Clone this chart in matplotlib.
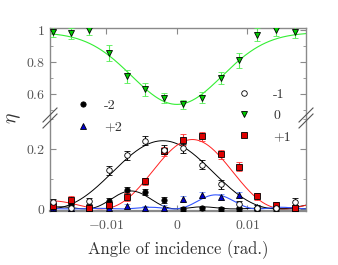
import matplotlib.pyplot as plt
import numpy as np
from matplotlib.lines import Line2D

plt.rcParams["mathtext.fontset"] = "cm"
plt.rcParams["font.family"] = ["cmr10", "DejaVu Serif"]
plt.rcParams["axes.unicode_minus"] = False

# measured angles of incidence (rad.)
angle = [-0.0176, -0.0150, -0.0124, -0.0097, -0.0071, -0.0045, -0.0018,
         0.0009, 0.0035, 0.0062, 0.0088, 0.0114, 0.0141, 0.0167]

# diffraction efficiencies per order
eta_0 = [0.99, 0.98, 1.00, 0.855, 0.71, 0.63, 0.575,
         0.535, 0.577, 0.70, 0.81, 0.97, 1.00, 0.985]
err_0 = [0.035, 0.035, 0.03, 0.05, 0.04, 0.04, 0.03,
         0.03, 0.035, 0.04, 0.045, 0.04, 0.035, 0.035]

eta_m1 = [0.022, 0.003, 0.025, 0.13, 0.18, 0.228, 0.198,
          0.203, 0.147, 0.082, 0.016, 0.004, 0.004, 0.023]
err_m1 = [0.012, 0.01, 0.01, 0.015, 0.015, 0.015, 0.015,
          0.015, 0.015, 0.015, 0.012, 0.01, 0.01, 0.012]

eta_p1 = [0.01, 0.03, 0.004, 0.013, 0.04, 0.093, 0.192,
          0.231, 0.243, 0.183, 0.141, 0.042, 0.012, 0.004]
err_p1 = [0.01, 0.012, 0.01, 0.01, 0.012, 0.012, 0.015,
          0.018, 0.015, 0.015, 0.015, 0.012, 0.01, 0.01]

eta_m2 = [0.006, 0.018, 0.004, 0.028, 0.062, 0.057, 0.03,
          0.0, 0.002, 0.0, 0.0, 0.002, 0.003, 0.002]
err_m2 = [0.008, 0.008, 0.008, 0.008, 0.01, 0.01, 0.01,
          0.006, 0.006, 0.006, 0.006, 0.006, 0.006, 0.006]

eta_p2 = [0.003, 0.002, 0.002, 0.003, 0.009, 0.003, 0.004,
          0.032, 0.045, 0.04, 0.045, 0.006, 0.01, 0.004]
err_p2 = [0.006, 0.006, 0.006, 0.006, 0.008, 0.008, 0.008,
          0.01, 0.01, 0.01, 0.01, 0.008, 0.008, 0.008]

# fit parameters (amplitude, centre, width)
fit_m1 = (0.228, -0.002, 0.0060)
fit_p1 = (0.232, 0.0022, 0.00478)
fit_m2 = (0.060, -0.0065, 0.0024)
fit_p2 = (0.047, 0.0055, 0.0022)
fit_0 = (0.985, 0.45, 0.0, 0.0064)  # top, depth, centre, sigma


def kogelnik(x, amp, x0, w):
    nu = np.pi / 2
    xi = (x - x0) / w
    return amp * np.sin(np.sqrt(nu ** 2 + xi ** 2)) ** 2 / (1 + xi ** 2 / nu ** 2)


def dip(x, top, depth, x0, s):
    return top - depth * np.exp(-((x - x0) ** 2) / (2 * s ** 2))


xlim = (-0.0180, 0.0183)
xs = np.linspace(xlim[0], xlim[1], 400)

fig = plt.figure(figsize=(3.38, 2.65), dpi=100)
left, width = 50 / 338, 256 / 338
y_break = 1 - 118 / 265
ax_top = fig.add_axes([left, y_break, width, (1 - 28 / 265) - y_break])
ax_bot = fig.add_axes([left, 1 - 211 / 265, width, y_break - (1 - 211 / 265)])

spine_col = "#8a8a8a"
label_col = "#555555"

eb_kw = dict(linestyle="none", capsize=2, elinewidth=0.8, capthick=0.8,
             markeredgecolor="black", markeredgewidth=0.6, zorder=3)

# zeroth order, top panel
ax_top.plot(xs, dip(xs, *fit_0), color="#33ee33", lw=0.8, zorder=2)
ax_top.errorbar(angle, eta_0, yerr=err_0, fmt="v", ms=4.5,
                color="#00cc00", ecolor="#55ee55", **eb_kw)

# other orders, bottom panel
ax_bot.plot(xs, kogelnik(xs, *fit_m1), color="black", lw=0.7, zorder=2)
ax_bot.plot(xs, kogelnik(xs, *fit_p1), color="#ff2020", lw=0.7, zorder=2)
ax_bot.plot(xs, kogelnik(xs, *fit_m2), color="black", lw=0.7, zorder=2)
ax_bot.plot(xs, kogelnik(xs, *fit_p2), color="#3355ff", lw=0.8, zorder=2)

ax_bot.errorbar(angle, eta_p2, yerr=err_p2, fmt="^", ms=4.5,
                color="#0000cc", ecolor="#6688ff", **eb_kw)
ax_bot.errorbar(angle, eta_m2, yerr=err_m2, fmt="o", ms=3.8,
                color="black", ecolor="black", **eb_kw)
ax_bot.errorbar(angle, eta_p1, yerr=err_p1, fmt="s", ms=4,
                color="#dd0000", ecolor="#ff3333", **eb_kw)
ax_bot.errorbar(angle, eta_m1, yerr=err_m1, fmt="o", ms=4,
                color="white", ecolor="black", **eb_kw)

for ax in (ax_top, ax_bot):
    ax.set_xlim(*xlim)
    ax.set_xticks([-0.01, 0, 0.01])
    for sp in ax.spines.values():
        sp.set_color(spine_col)
        sp.set_linewidth(1.0)
    ax.tick_params(which="both", direction="in", color=spine_col,
                   labelcolor=label_col, labelsize=10, right=True)
    ax.tick_params(which="major", length=4)
    ax.tick_params(which="minor", length=2.5)

ax_top.set_ylim(0.45, 1.0125)
ax_top.set_yticks([0.6, 0.8, 1.0])
ax_top.set_yticklabels(["$0.6$", "$0.8$", "$1$"])
ax_top.set_yticks([0.5, 0.7, 0.9], minor=True)
ax_top.spines["bottom"].set_visible(False)
ax_top.tick_params(axis="x", which="both", bottom=False, top=True,
                   labelbottom=False)

ax_bot.set_ylim(-0.007, 0.304)
ax_bot.set_yticks([0, 0.2])
ax_bot.set_yticklabels(["$0$", "$0.2$"])
ax_bot.set_yticks([0.1, 0.3], minor=True)
ax_bot.spines["top"].set_visible(False)
ax_bot.spines["bottom"].set_linewidth(1.6)
ax_bot.tick_params(axis="x", which="both", top=False, pad=6)
ax_bot.set_xticklabels(["$-0.01$", "$0$", "$0.01$"])
ax_bot.set_xlabel("Angle of incidence (rad.)", fontsize=12, color="#333333",
                  labelpad=6)

fig.text(14 / 338, 1 - 118 / 265, r"$\eta$", fontsize=14, rotation=90,
         ha="center", va="center", color="#333333")

# axis-break marks
for xb in (left, left + width):
    for dy in (-3, 3):
        yc = y_break + dy / 265
        fig.add_artist(Line2D([xb - 7 / 338, xb + 7 / 338],
                              [yc - 7 / 265, yc + 7 / 265],
                              color="#555555", lw=0.8))

# legends
def handle(marker, face, ms):
    return Line2D([], [], linestyle="none", marker=marker, markersize=ms,
                  markerfacecolor=face, markeredgecolor="black",
                  markeredgewidth=0.6)


leg_kw = dict(frameon=False, fontsize=10, handlelength=1.0,
              handletextpad=1.0, borderpad=0, borderaxespad=0,
              labelcolor="#333333")

fig.legend([handle("o", "black", 3.8), handle("^", "#0000cc", 4.5)],
           ["-2", "+2"], loc="upper left",
           bbox_to_anchor=(76 / 338, 1 - 99 / 265), labelspacing=0.65,
           **leg_kw)
fig.legend([handle("o", "white", 4), handle("v", "#00cc00", 4.5),
            handle("s", "#dd0000", 4)],
           ["-1", "0", "+1"], loc="upper left",
           bbox_to_anchor=(237 / 338, 1 - 88 / 265), labelspacing=0.6,
           **dict(leg_kw, handletextpad=1.6))

fig.savefig("out.png", dpi=100)
